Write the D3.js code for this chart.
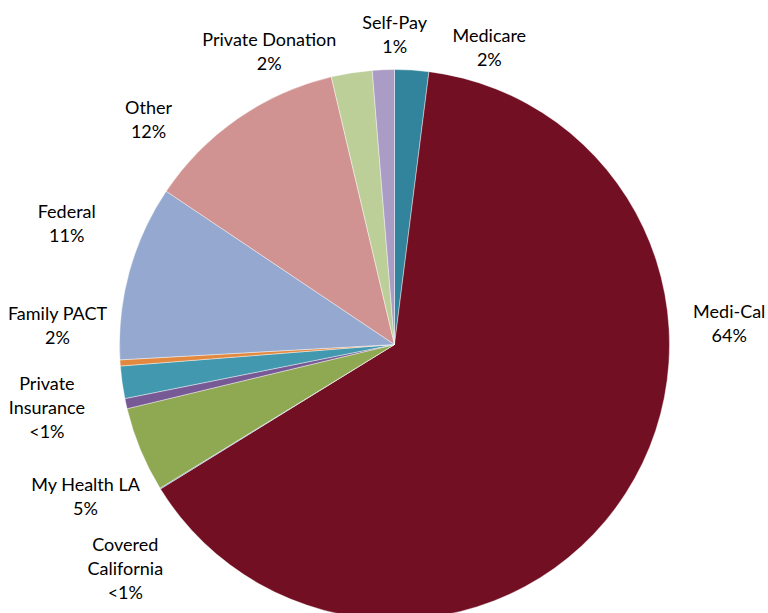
<!DOCTYPE html>
<html>
<head>
<meta charset="utf-8">
<script src="https://cdn.jsdelivr.net/npm/d3@7"></script>
<style>
  body { margin: 0; background: #fff; }
  text { font-family: Lato, "Open Sans", sans-serif; font-size: 18px; fill: #000; }
</style>
</head>
<body>
<div id="chart"></div>
<script>
// Data (percent of revenue)
const categories = ['Medicare', 'Medi-Cal', 'Covered California', 'My Health LA', 'Private Insurance',
  'Family PACT', 'Unlabeled', 'Federal', 'Other', 'Private Donation', 'Self-Pay']
const values = [2.0, 64.2, 0.05, 5.0, 0.6, 1.9, 0.36, 10.3, 11.9, 2.4, 1.29]
const labelLines = [['Medicare', '2%'], ['Medi-Cal', '64%'], ['Covered', 'California', '<1%'],
  ['My Health LA', '5%'], ['Private', 'Insurance', '<1%'], ['Family PACT', '2%'], [],
  ['Federal', '11%'], ['Other', '12%'], ['Private Donation', '2%'], ['Self-Pay', '1%']]

const colors = ['#31849b', '#720f22', '#4f81bd', '#8fa852', '#775a95', '#4298ae',
  '#e3893f', '#94a8d0', '#d09392', '#bccf99', '#aa9cc5']

// label offsets from the arc centroid, to follow the original's placement
const labelNudge = {
  'Medicare': [75, 19], 'Medi-Cal': [69, -191], 'Covered California': [0, 59],
  'My Health LA': [-17, 32], 'Private Insurance': [-39, -4], 'Family PACT': [-24, -62],
  'Federal': [-23, -37], 'Other': [-66, 35], 'Private Donation': [-76, 20], 'Self-Pay': [13, 6]
}

const dataset = categories.map((c, i) => ({ name: c, value: values[i], lines: labelLines[i] }))

// Dimensions
let dimensions = {
  width: 768,
  height: 613,
  cx: 394.5,
  cy: 344.5,
  radius: 275,
  lineHeight: 24,
}

const svg = d3.select('#chart')
  .append('svg')
  .attr('width', dimensions.width)
  .attr('height', dimensions.height)

const ctr = svg.append('g')
  .attr('transform', `translate(${dimensions.cx}, ${dimensions.cy})`)

// Scales
const pie = d3.pie()
  .value(d => d.value)
  .sort(null)

const slices = pie(dataset)

const arc = d3.arc()
  .innerRadius(0)
  .outerRadius(dimensions.radius)

const labelArc = d3.arc()
  .innerRadius(316)
  .outerRadius(316)

const colorScale = d3.scaleOrdinal()
  .domain(categories)
  .range(colors)

// draw shape
ctr.append('g')
  .selectAll('path')
  .data(slices)
  .join('path')
  .attr('d', arc)
  .attr('fill', d => colorScale(d.data.name))
  .attr('stroke', '#fff')
  .attr('stroke-width', 0.6)
  .attr('stroke-opacity', 0.7)

// labels
const labels = ctr.append('g')
  .selectAll('text')
  .data(slices.filter(d => d.data.lines.length))
  .join('text')
  .attr('text-anchor', 'middle')
  .attr('transform', d => {
    const [x, y] = labelArc.centroid(d)
    const [dx, dy] = labelNudge[d.data.name] || [0, 0]
    return `translate(${x + dx}, ${y + dy})`
  })

labels.selectAll('tspan')
  .data(d => d.data.lines.map((t, i, arr) => ({ t, i, n: arr.length })))
  .join('tspan')
  .attr('x', 0)
  .attr('y', d => (d.i - (d.n - 1) / 2) * dimensions.lineHeight + 6)
  .text(d => d.t)
</script>
</body>
</html>
